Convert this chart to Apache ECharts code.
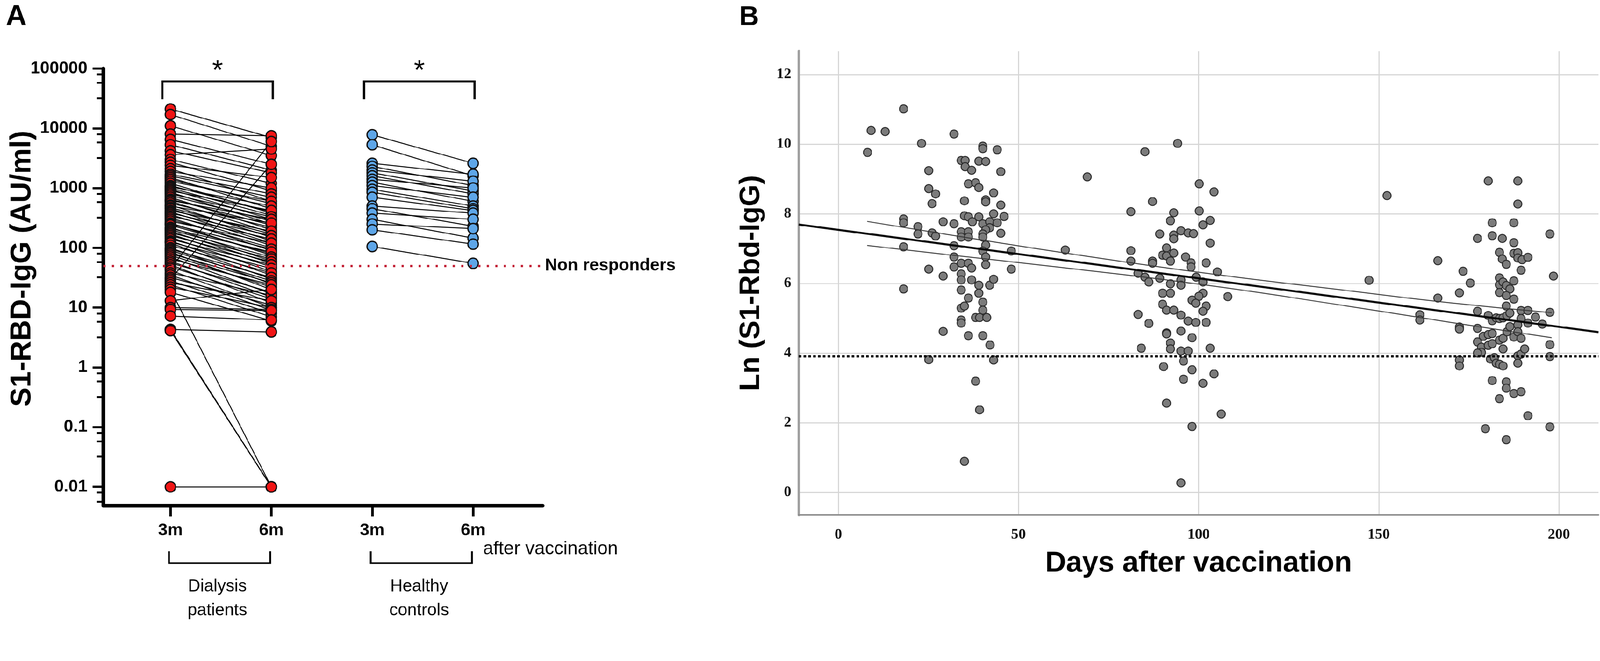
<!DOCTYPE html>
<html>
<head>
<meta charset="utf-8">
<script src="https://cdn.jsdelivr.net/npm/echarts@6/dist/echarts.min.js"></script>
<style>
  html, body { margin: 0; padding: 0; background: #fff; overflow: hidden; }
  #chart { width: 4319px; height: 1692px; transform-origin: 0 0; }
</style>
</head>
<body>
<div id="chart"></div>
<script>
// ---------- panel A : paired S1-RBD-IgG, 3m vs 6m ----------
const xTicksA = [1, 2, 3, 4];
const xTickLabelsA = ['3m', '6m', '3m', '6m'];
const yTicksA = [0.01, 0.1, 1, 10, 100, 1000, 10000, 100000];
const yTickLabelsA = ['0.01', '0.1', '1', '10', '100', '1000', '10000', '100000'];
const yMinorTicksA = [0.0056, 0.008, 0.032, 0.058, 0.08, 0.32, 0.58, 0.8, 3.2, 5.8, 8,
  32, 58, 80, 320, 580, 800, 3200, 5800, 8000, 32000, 58000, 80000];
const groupSpans = [[1, 2], [3, 4]];
const groupNames = ['Dialysis\npatients', 'Healthy\ncontrols'];
const sigMarks = ['*', '*'];
const CUTOFF_AU = 50;

const dialysis3m = [21000, 17000, 11000, 8000, 6500, 5300, 4200, 3600, 3000, 2700,
  2400, 2100, 1900, 1700, 1600, 1500, 1400, 1300, 1200, 1100,
  1050, 1000, 950, 900, 850, 800, 750, 700, 650, 620,
  600, 560, 520, 500, 470, 450, 420, 400, 380, 360,
  340, 320, 300, 280, 260, 250, 240, 220, 210, 200,
  190, 180, 170, 160, 150, 140, 130, 125, 120, 110,
  100, 95, 90, 85, 80, 75, 70, 65, 60, 56,
  52, 48, 45, 42, 38, 35, 32, 30, 28, 26,
  24, 22, 20, 18, 13, 10, 9.3, 7.2, 4.3, 4.3,
  4.1, 0.01];
const dialysis6m = [7000, 5000, 3500, 7500, 2500, 2000, 1800, 4500, 1200, 900,
  1500, 600, 1000, 800, 700, 450, 550, 600, 380, 400,
  500, 350, 300, 420, 250, 330, 280, 200, 240, 300,
  180, 220, 150, 260, 170, 130, 190, 120, 160, 110,
  140, 90, 100, 120, 75, 95, 80, 60, 85, 70,
  55, 65, 48, 58, 40, 52, 35, 45, 30, 38,
  25, 32, 28, 20, 26, 22, 17, 24, 15, 18,
  12, 14, 6000, 10, 16, 9, 11, 2500, 8, 13,
  7, 10, 0.01, 6, 20, 9.3, 8.9, 6.2, 3.9, 0.01,
  0.01, 0.01];
const healthy3m = [7800, 5300, 2600, 2300, 2000, 1800, 1600, 1400, 1250, 1100,
  950, 850, 700, 500, 450, 380, 300, 250, 200, 105];
const healthy6m = [2600, 1600, 1700, 1100, 1300, 900, 800, 1000, 600, 700,
  500, 450, 420, 380, 230, 300, 145, 210, 115, 55];

// ---------- panel B : Ln(S1-Rbd-IgG) vs days ----------
const xTicksB = [0, 50, 100, 150, 200];
const yTicksB = [0, 2, 4, 6, 8, 10, 12];
const CUTOFF_LN = 3.91;
const pointsB = [
  [8.1,9.76],[9.1,10.39],[13.0,10.36],[18.1,11.01],[18.1,7.85],[18.1,7.74],[18.1,7.05],[18.1,5.84],
  [22.1,7.63],[22.1,7.42],[23.1,10.02],[25.1,9.24],[25.1,8.72],[27.0,8.57],[26.0,8.29],[26.0,7.45],
  [27.0,7.36],[25.1,6.41],[29.1,7.77],[29.1,6.21],[32.1,10.29],[32.1,7.71],[32.1,7.08],[32.1,6.76],
  [32.1,6.47],[34.1,9.53],[35.2,9.53],[35.2,9.35],[37.0,9.25],[36.1,8.86],[38.1,8.89],[39.0,8.75],
  [35.0,8.37],[35.0,7.94],[36.1,7.91],[37.2,7.77],[34.1,7.48],[34.1,7.33],[36.1,7.48],[36.1,7.33],
  [34.1,6.58],[34.1,6.27],[34.1,6.10],[36.1,6.58],[37.0,6.44],[37.0,6.10],[36.1,5.58],[34.1,5.81],
  [39.0,9.51],[40.9,9.50],[40.1,9.94],[40.1,9.87],[44.1,9.84],[45.1,9.21],[43.1,8.60],[40.9,8.40],
  [40.9,8.34],[45.1,8.25],[43.1,8.00],[46.0,7.92],[39.0,7.91],[40.1,7.71],[42.0,7.77],[44.1,7.74],
  [42.0,7.60],[40.9,7.54],[40.1,7.42],[40.1,7.33],[45.1,7.44],[40.9,7.10],[40.1,6.93],[40.9,6.76],
  [40.9,6.54],[48.0,6.93],[48.0,6.41],[39.0,5.95],[42.0,5.95],[43.1,6.12],[39.0,5.72],[40.1,5.46],
  [40.1,5.23],[34.1,5.29],[35.0,5.35],[34.1,4.95],[34.1,4.86],[38.1,5.02],[39.2,5.02],[41.2,5.02],
  [29.1,4.62],[36.1,4.50],[40.1,4.50],[42.1,4.23],[25.1,3.81],[43.1,3.80],[38.1,3.19],[39.2,2.37],
  [35.0,0.89],
  [63.0,6.96],[69.1,9.06],[81.2,8.06],[81.2,6.94],[81.2,6.64],[83.2,6.29],[85.1,9.78],[87.2,8.35],
  [87.2,6.64],[87.2,6.58],[85.1,6.18],[86.2,6.04],[89.2,7.42],[89.2,6.15],[91.1,7.02],[90.0,6.81],
  [91.1,6.79],[92.2,6.64],[92.2,5.99],[93.1,8.03],[92.2,7.80],[93.1,7.39],[93.1,7.28],[93.1,6.87],
  [94.2,10.02],[90.0,5.72],[92.2,5.72],[90.0,5.40],[91.1,5.23],[93.1,5.23],[83.2,5.11],[95.1,7.51],
  [95.1,6.10],[95.1,5.95],[86.2,4.85],[95.1,5.09],[91.1,4.58],[91.1,4.55],[95.1,4.63],[92.2,4.29],
  [92.2,4.12],[84.1,4.14],[95.1,4.06],[90.3,3.61],[95.8,3.77],[95.8,3.25],[91.1,2.56],[95.1,0.27],
  [100.2,8.86],[104.3,8.63],[100.2,8.08],[103.2,7.81],[101.2,7.68],[97.1,7.45],[98.6,7.43],[103.2,7.16],
  [96.4,6.76],[97.9,6.59],[97.9,6.47],[102.1,6.59],[105.2,6.33],[99.3,6.18],[101.2,6.04],[101.2,5.72],
  [100.1,5.63],[98.2,5.52],[99.2,5.43],[102.1,5.35],[108.1,5.62],[101.2,5.20],[97.1,4.92],[99.2,4.88],
  [102.1,4.88],[98.2,4.44],[103.2,4.14],[97.1,4.06],[98.2,3.52],[104.3,3.40],[101.2,3.13],[106.3,2.25],
  [98.2,1.89],
  [147.3,6.09],[152.3,8.52],[161.4,5.10],[161.4,4.95],[166.4,6.65],[166.4,5.58],[172.4,5.73],[173.4,6.35],
  [172.4,4.75],[172.4,4.69],[172.4,3.80],[172.4,3.63],
  [180.4,8.94],[188.6,8.94],[188.6,8.28],[181.5,7.74],[187.5,7.74],[177.4,7.29],[181.5,7.37],[184.3,7.29],
  [187.5,7.17],[197.5,7.42],[183.5,6.89],[184.3,6.70],[185.4,6.55],[187.5,6.86],[188.6,6.88],[188.6,6.73],
  [189.8,6.68],[191.4,6.75],[189.5,6.38],[175.4,6.01],[198.5,6.21],[183.5,6.16],[183.5,5.96],[183.5,5.74],
  [184.5,6.04],[185.4,5.94],[186.4,5.84],[185.4,5.65],[187.5,6.07],[187.5,5.55],[185.4,5.35],[177.4,5.20],
  [180.4,5.08],[181.5,4.93],[182.6,5.01],[183.5,4.99],[184.5,5.01],[185.6,5.08],[186.4,5.15],[189.5,5.22],
  [191.4,5.22],[193.5,5.03],[195.4,4.83],[197.5,5.17],[189.5,4.99],[188.6,4.81],[191.4,4.86],[177.4,4.71],
  [179.0,4.48],[180.4,4.53],[181.5,4.56],[177.4,4.32],[178.5,4.17],[180.4,4.22],[181.5,4.27],[183.5,4.37],
  [184.5,4.42],[184.5,4.12],[185.6,4.61],[186.4,4.76],[187.5,4.46],[188.6,4.61],[189.5,4.42],[178.5,4.02],
  [177.4,4.00],[197.5,4.24],[197.5,3.90],[181.0,3.83],[182.1,3.87],[182.6,3.71],[183.5,3.68],[184.5,3.63],
  [188.6,3.92],[189.5,3.97],[190.5,4.12],[188.6,3.71],[181.5,3.21],[185.4,3.17],[185.4,2.99],[187.5,2.84],
  [189.5,2.89],[183.5,2.69],[191.4,2.20],[179.6,1.83],[197.5,1.88],[185.4,1.51]
];
const fitLine = [[-11, 7.69], [211, 4.60]];
const ciUpper = [[8, 7.78], [30, 7.41], [60, 6.92], [100, 6.32], [140, 5.81], [170, 5.44], [198, 5.16]];
const ciLower = [[8, 7.09], [30, 6.83], [60, 6.48], [100, 5.98], [140, 5.37], [170, 4.88], [198, 4.44]];

const Y_MIN_A = 0.00483, Y_MAX_A = 100000;
const SANS = '"Liberation Sans", Arial, sans-serif';
const SERIF = '"Liberation Serif", "Times New Roman", serif';

// the page is laid out at 4319 x 1692; shrink it if the viewport is smaller
const box = document.getElementById('chart');
const fit = Math.min(window.innerWidth / 4319, window.innerHeight / 1692);
if (fit > 0 && fit < 1) box.style.transform = 'scale(' + fit + ')';

const chart = echarts.init(box);

function pairLines(a, b, xa, xb) {
  return a.map((v, i) => ({ coords: [[xa, v], [xb, b[i]]] }));
}
function pointsAt(arr, x) { return arr.map(v => [x, v]); }

function renderTopBracket(params, api) {
  const a = api.coord([api.value(0), Y_MAX_A]);
  const b = api.coord([api.value(1), Y_MAX_A]);
  const xl = a[0] - 22, xr = b[0] + 4, bar = a[1] + 35, foot = a[1] + 83;
  return {
    type: 'group',
    children: [
      { type: 'polyline', shape: { points: [[xl, foot], [xl, bar], [xr, bar], [xr, foot]] },
        style: { stroke: '#000', lineWidth: 6, fill: null } },
      { type: 'text', x: (xl + xr) / 2, y: a[1] + 8,
        style: { text: sigMarks[params.dataIndex], align: 'center', verticalAlign: 'middle',
          font: '76px ' + SANS, fill: '#000' } }
    ]
  };
}
function renderBottomBracket(params, api) {
  const a = api.coord([api.value(0), Y_MIN_A]);
  const b = api.coord([api.value(1), Y_MIN_A]);
  const xl = a[0] - 4, xr = b[0] - 3, legTop = a[1] + 123, bar = a[1] + 155;
  return {
    type: 'group',
    children: [
      { type: 'polyline', shape: { points: [[xl, legTop], [xl, bar], [xr, bar], [xr, legTop]] },
        style: { stroke: '#000', lineWidth: 5, fill: null } },
      { type: 'text', x: (xl + xr) / 2 - 6, y: bar + 96,
        style: { text: groupNames[params.dataIndex], align: 'center', verticalAlign: 'middle',
          font: '46px ' + SANS, lineHeight: 65, fill: '#000' } }
    ]
  };
}

const option = {
  animation: false,
  backgroundColor: '#fff',
  grid: [
    { left: 279, top: 185, width: 1186, height: 1180 },
    { left: 2156, top: 138, width: 2159, height: 1252 }
  ],
  xAxis: [
    {
      gridIndex: 0, type: 'value', min: 0.335, max: 4.69,
      axisLine: { onZero: false, lineStyle: { color: '#000', width: 10 } },
      axisTick: { customValues: xTicksA, length: 29, lineStyle: { color: '#000', width: 7 } },
      axisLabel: {
        customValues: xTicksA, margin: 44,
        formatter: v => xTickLabelsA[xTicksA.indexOf(v)],
        fontFamily: SANS, fontWeight: 'bold', fontSize: 46, color: '#000'
      },
      splitLine: { show: false }
    },
    {
      gridIndex: 1, type: 'value', min: -11, max: 211,
      name: 'Days after vaccination', nameLocation: 'middle', nameGap: 92,
      nameTextStyle: { fontFamily: SANS, fontWeight: 'bold', fontSize: 78, color: '#000' },
      axisLine: { onZero: false, lineStyle: { color: '#8c8c8c', width: 4 } },
      axisTick: { show: false, customValues: xTicksB },
      axisLabel: { customValues: xTicksB, margin: 34, fontFamily: SERIF, fontWeight: 'bold', fontSize: 40, color: '#111' },
      splitLine: { show: true, lineStyle: { color: '#d6d6d6', width: 3 } }
    }
  ],
  yAxis: [
    {
      gridIndex: 0, type: 'log', logBase: 10, min: Y_MIN_A, max: Y_MAX_A, position: 'left',
      axisLine: { onZero: false, lineStyle: { color: '#000', width: 10 } },
      axisTick: { customValues: yTicksA, length: 29, lineStyle: { color: '#000', width: 6 } },
      axisLabel: {
        customValues: yTicksA, margin: 43,
        formatter: v => yTickLabelsA[yTicksA.findIndex(t => Math.abs(t - v) / t < 1e-6)],
        fontFamily: SANS, fontWeight: 'bold', fontSize: 46, color: '#000'
      },
      splitLine: { show: false }
    },
    {
      gridIndex: 0, type: 'log', logBase: 10, min: Y_MIN_A, max: Y_MAX_A, position: 'left', offset: 0,
      axisLine: { show: false, onZero: false },
      axisTick: { customValues: yMinorTicksA, length: 17, lineStyle: { color: '#000', width: 5 } },
      axisLabel: { show: false },
      splitLine: { show: false }
    },
    {
      gridIndex: 1, type: 'value', min: -0.65, max: 12.67, splitNumber: 7,
      name: 'Ln (S1-Rbd-IgG)', nameLocation: 'middle', nameGap: 90,
      nameTextStyle: { fontFamily: SANS, fontWeight: 'bold', fontSize: 76, color: '#000' },
      axisLine: { show: true, onZero: false, lineStyle: { color: '#a0a0a0', width: 7 } },
      axisTick: { show: false, customValues: yTicksB },
      axisLabel: { customValues: yTicksB, margin: 20, fontFamily: SERIF, fontWeight: 'bold', fontSize: 40, color: '#111' },
      splitLine: { show: true, lineStyle: { color: '#d6d6d6', width: 3 } }
    }
  ],
  graphic: [
    { type: 'text', x: 44, y: 46, style: { text: 'A', align: 'center', verticalAlign: 'middle', font: 'bold 78px ' + SANS, fill: '#000' } },
    { type: 'text', x: 2022, y: 48, style: { text: 'B', align: 'center', verticalAlign: 'middle', font: 'bold 74px ' + SANS, fill: '#000' } },
    { type: 'text', x: 60, y: 725, rotation: Math.PI / 2,
      style: { text: 'S1-RBD-IgG (AU/ml)', align: 'center', verticalAlign: 'middle', font: 'bold 78px ' + SANS, fill: '#000' } },
    { type: 'text', x: 1304, y: 1482,
      style: { text: 'after vaccination', align: 'left', verticalAlign: 'middle', font: '50px ' + SANS, fill: '#000' } }
  ],
  series: [
    {
      name: 'dialysis pairs', type: 'lines', coordinateSystem: 'cartesian2d', xAxisIndex: 0, yAxisIndex: 0,
      data: pairLines(dialysis3m, dialysis6m, 1, 2), z: 2, silent: true,
      lineStyle: { color: '#000', width: 2.5, opacity: 1 }
    },
    {
      name: 'healthy pairs', type: 'lines', coordinateSystem: 'cartesian2d', xAxisIndex: 0, yAxisIndex: 0,
      data: pairLines(healthy3m, healthy6m, 3, 4), z: 2, silent: true,
      lineStyle: { color: '#000', width: 2.5, opacity: 1 }
    },
    {
      name: 'Dialysis patients', type: 'scatter', xAxisIndex: 0, yAxisIndex: 0, z: 3,
      data: pointsAt(dialysis3m, 1).concat(pointsAt(dialysis6m, 2)),
      symbolSize: 28, itemStyle: { color: '#f01515', borderColor: '#111', borderWidth: 3.5, opacity: 1 },
      markLine: {
        silent: true, symbol: 'none', z: 4,
        lineStyle: { color: '#c4263a', width: 6, type: [6, 17] },
        label: { show: true, position: 'end', distance: 6, formatter: 'Non responders',
          fontFamily: SANS, fontWeight: 'bold', fontSize: 46, color: '#000' },
        data: [{ yAxis: CUTOFF_AU }]
      }
    },
    {
      name: 'Healthy controls', type: 'scatter', xAxisIndex: 0, yAxisIndex: 0, z: 3,
      data: pointsAt(healthy3m, 3).concat(pointsAt(healthy6m, 4)),
      symbolSize: 28, itemStyle: { color: '#5ea6e8', borderColor: '#111', borderWidth: 3.5, opacity: 1 }
    },
    {
      type: 'custom', coordinateSystem: 'cartesian2d', xAxisIndex: 0, yAxisIndex: 0,
      renderItem: renderTopBracket, data: groupSpans, clip: false, z: 5, silent: true
    },
    {
      type: 'custom', coordinateSystem: 'cartesian2d', xAxisIndex: 0, yAxisIndex: 0,
      renderItem: renderBottomBracket, data: groupSpans, clip: false, z: 5, silent: true
    },
    {
      name: 'Ln IgG', type: 'scatter', xAxisIndex: 1, yAxisIndex: 2, z: 2,
      data: pointsB, symbolSize: 22,
      itemStyle: { color: '#7b7b7b', borderColor: '#2a2a2a', borderWidth: 2.5, opacity: 1 }
    },
    {
      name: 'CI upper', type: 'line', xAxisIndex: 1, yAxisIndex: 2, z: 3, smooth: true,
      data: ciUpper, showSymbol: false, lineStyle: { color: '#3a3a3a', width: 2.5 }
    },
    {
      name: 'CI lower', type: 'line', xAxisIndex: 1, yAxisIndex: 2, z: 3, smooth: true,
      data: ciLower, showSymbol: false, lineStyle: { color: '#3a3a3a', width: 2.5 }
    },
    {
      name: 'fit', type: 'line', xAxisIndex: 1, yAxisIndex: 2, z: 4,
      data: fitLine, showSymbol: false, lineStyle: { color: '#0a0a0a', width: 5.5 },
      markLine: {
        silent: true, symbol: 'none', label: { show: false },
        lineStyle: { color: '#000', width: 7, type: [7, 6] },
        data: [{ yAxis: CUTOFF_LN }]
      }
    }
  ]
};
chart.setOption(option);
</script>
</body>
</html>
